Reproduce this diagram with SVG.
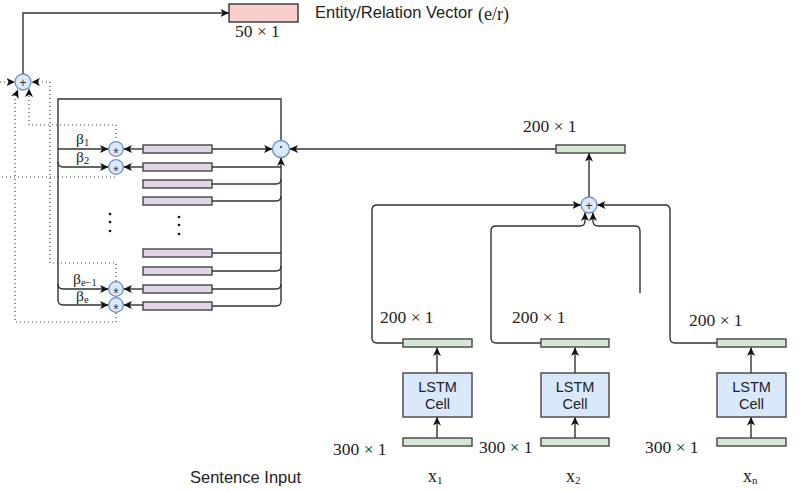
<svg xmlns="http://www.w3.org/2000/svg" width="801" height="492" viewBox="0 0 801 492">
  <style>
    .ln { fill: none; stroke: #333; stroke-width: 1.4; }
    .dot { fill: none; stroke: #444; stroke-width: 1.2; stroke-dasharray: 1 3; }
    .pink { fill: #f8cecc; stroke: #333; stroke-width: 1.4; }
    .green { fill: #d5e8d4; stroke: #444; stroke-width: 1.4; }
    .purple { fill: #e1d5e7; stroke: #444; stroke-width: 1.4; }
    .lstm { fill: #dae8fc; stroke: #444; stroke-width: 1.4; }
    .op { fill: #dae8fc; stroke: #6c8ebf; stroke-width: 1.3; }
    .serif { font-family: "Liberation Serif", "Times New Roman", serif; fill: #222; }
    .sans { font-family: "Liberation Sans", Arial, sans-serif; fill: #222; }
    .dim { font-size: 17.5px; }
    .sym { font-family: "Liberation Sans", Arial, sans-serif; font-size: 12px; fill: #333; text-anchor: middle; }
    .ast { font-family: "Liberation Sans", Arial, sans-serif; font-size: 14px; fill: #444; text-anchor: middle; }
    .vd { fill: #111; }
  </style>
  <defs>
    <marker id="arr" markerUnits="userSpaceOnUse" markerWidth="9" markerHeight="8" refX="8.5" refY="4" orient="auto">
      <path d="M0,0 L8.5,4 L0,8 L2.2,4 z" fill="#111"/>
    </marker>
  </defs>
  <rect width="801" height="492" fill="#fff"/>

  <!-- connectors -->
  <g id="connectors">
    <!-- sum of weighted entries to the output vector -->
    <path class="ln" d="M23,74 V13 H229" marker-end="url(#arr)"/>
    <!-- dotted feeds into the top sum -->
    <path class="dot" d="M0,82 H15" marker-end="url(#arr)"/>
    <path class="dot" d="M116,281 V263 H50 V82 H31.5" marker-end="url(#arr)"/>
    <path class="dot" d="M116,313 V322 H15 V97 L18,89.5" marker-end="url(#arr)"/>
    <path class="dot" d="M116,142 V125 H29 V88.5" marker-end="url(#arr)"/>
    <path class="dot" d="M116,174 V177 H0"/>

    <!-- attention weights from the dot product -->
    <path class="ln" d="M281,140.5 V99 H58 V300"/>
    <path class="ln" d="M58,149 H108.5" marker-end="url(#arr)"/>
    <path class="ln" d="M58,162 Q58,167 63,167 H108.5" marker-end="url(#arr)"/>
    <path class="ln" d="M58,284 Q58,289 63,289 H108.5" marker-end="url(#arr)"/>
    <path class="ln" d="M58,300 Q58,305 63,305 H108.5" marker-end="url(#arr)"/>

    <!-- entries into the weighting nodes -->
    <path class="ln" d="M143,149 H123.5" marker-end="url(#arr)"/>
    <path class="ln" d="M143,167 H123.5" marker-end="url(#arr)"/>
    <path class="ln" d="M143,289 H123.5" marker-end="url(#arr)"/>
    <path class="ln" d="M143,305 H123.5" marker-end="url(#arr)"/>

    <!-- entries into the dot product -->
    <path class="ln" d="M212,149 H272.5" marker-end="url(#arr)"/>
    <path class="ln" d="M281,301 V157.5" marker-end="url(#arr)"/>
    <path class="ln" d="M212,167 H281"/>
    <path class="ln" d="M212,184 H276 Q281,184 281,179"/>
    <path class="ln" d="M212,201 H276 Q281,201 281,196"/>
    <path class="ln" d="M212,253 H281"/>
    <path class="ln" d="M212,271 H276 Q281,271 281,266"/>
    <path class="ln" d="M212,289 H276 Q281,289 281,284"/>
    <path class="ln" d="M212,306 H276 Q281,306 281,301"/>

    <!-- sentence vector to the dot product -->
    <path class="ln" d="M556,149 H289.5" marker-end="url(#arr)"/>

    <!-- sum to sentence vector -->
    <path class="ln" d="M589,197 V153" marker-end="url(#arr)"/>

    <!-- LSTM outputs into the sum -->
    <path class="ln" d="M403,343 H377 Q372,343 372,338 V210 Q372,205 377,205 H581" marker-end="url(#arr)"/>
    <path class="ln" d="M541,343 H496 Q491,343 491,338 V231 Q491,226 496,226 H580 Q585,226 585,221 V212.5" marker-end="url(#arr)"/>
    <path class="ln" d="M640,293 V231 Q640,226 635,226 H598 Q593,226 593,221 V212.5" marker-end="url(#arr)"/>
    <path class="ln" d="M717,343 H675 Q670,343 670,338 V210 Q670,205 665,205 H597" marker-end="url(#arr)"/>

    <!-- LSTM column arrows -->
    <path class="ln" d="M437,438 V417" marker-end="url(#arr)"/>
    <path class="ln" d="M437,373 V347.5" marker-end="url(#arr)"/>
    <path class="ln" d="M575,438 V417" marker-end="url(#arr)"/>
    <path class="ln" d="M575,373 V347.5" marker-end="url(#arr)"/>
    <path class="ln" d="M751,438 V417" marker-end="url(#arr)"/>
    <path class="ln" d="M751,373 V347.5" marker-end="url(#arr)"/>
  </g>

  <!-- output vector -->
  <g id="entity-vector">
    <rect class="pink" x="229" y="4" width="69" height="18"/>
    <text class="serif dim" x="235" y="37">50 × 1</text>
    <text class="sans" x="315" y="18" font-size="16.5">Entity/Relation Vector</text>
    <text class="serif" x="478" y="20" font-size="18">(e/r)</text>
  </g>

  <g id="sum-top">
    <circle class="op" cx="23" cy="82" r="8"/>
    <text class="sym" x="23" y="86.5">+</text>
  </g>

  <!-- weighting nodes -->
  <g id="mul-1"><circle class="op" cx="116" cy="149" r="7.3"/><text class="ast" x="116" y="157.5">*</text></g>
  <g id="mul-2"><circle class="op" cx="116" cy="167" r="7.3"/><text class="ast" x="116" y="175.5">*</text></g>
  <g id="mul-e1"><circle class="op" cx="116" cy="289" r="7.3"/><text class="ast" x="116" y="297.5">*</text></g>
  <g id="mul-e"><circle class="op" cx="116" cy="305" r="7.3"/><text class="ast" x="116" y="313.5">*</text></g>

  <g id="beta-labels" class="serif" font-size="15.5">
    <text x="76" y="144">β<tspan font-size="10.5" dy="2">1</tspan></text>
    <text x="76" y="162">β<tspan font-size="10.5" dy="2">2</tspan></text>
    <text x="73" y="284">β<tspan font-size="10.5" dy="2">e−1</tspan></text>
    <text x="76" y="301">β<tspan font-size="10.5" dy="2">e</tspan></text>
  </g>

  <!-- entity entries -->
  <g id="entries">
    <rect class="purple" x="143" y="145" width="69" height="8"/>
    <rect class="purple" x="143" y="163" width="69" height="8"/>
    <rect class="purple" x="143" y="180" width="69" height="8"/>
    <rect class="purple" x="143" y="197" width="69" height="8"/>
    <rect class="purple" x="143" y="249" width="69" height="8"/>
    <rect class="purple" x="143" y="267" width="69" height="8"/>
    <rect class="purple" x="143" y="285" width="69" height="8"/>
    <rect class="purple" x="143" y="302" width="69" height="8"/>
  </g>

  <g id="ellipsis">
    <circle class="vd" cx="110" cy="214" r="1.3"/>
    <circle class="vd" cx="110" cy="222" r="1.3"/>
    <circle class="vd" cx="110" cy="231" r="1.3"/>
    <circle class="vd" cx="179" cy="217" r="1.3"/>
    <circle class="vd" cx="179" cy="225" r="1.3"/>
    <circle class="vd" cx="179" cy="234" r="1.3"/>
  </g>

  <g id="dot-product">
    <circle class="op" cx="281" cy="149" r="8.5"/>
    <circle cx="281" cy="147" r="0.9" fill="#222"/>
  </g>

  <g id="sentence-vector">
    <rect class="green" x="556" y="145" width="69" height="8"/>
    <text class="serif dim" x="523" y="132">200 × 1</text>
  </g>

  <g id="sum-lstm">
    <circle class="op" cx="589" cy="205" r="8"/>
    <text class="sym" x="589" y="209.5">+</text>
  </g>

  <!-- LSTM columns -->
  <g id="col-1">
    <rect class="green" x="403" y="339" width="69" height="8"/>
    <text class="serif dim" x="380" y="323">200 × 1</text>
    <rect class="lstm" x="403" y="373" width="69" height="44"/>
    <text class="sans" x="437.5" y="392" font-size="14.5" text-anchor="middle">LSTM</text>
    <text class="sans" x="437.5" y="409" font-size="14.5" text-anchor="middle">Cell</text>
    <rect class="green" x="403" y="438" width="69" height="8"/>
    <text class="serif dim" x="333" y="455">300 × 1</text>
    <text class="serif" x="428" y="482" font-size="18">x<tspan font-size="11" dy="2">1</tspan></text>
  </g>
  <g id="col-2">
    <rect class="green" x="541" y="339" width="68" height="8"/>
    <text class="serif dim" x="512" y="323">200 × 1</text>
    <rect class="lstm" x="541" y="373" width="68" height="44"/>
    <text class="sans" x="575" y="392" font-size="14.5" text-anchor="middle">LSTM</text>
    <text class="sans" x="575" y="409" font-size="14.5" text-anchor="middle">Cell</text>
    <rect class="green" x="541" y="438" width="68" height="8"/>
    <text class="serif dim" x="479" y="453">300 × 1</text>
    <text class="serif" x="566" y="482" font-size="18">x<tspan font-size="11" dy="2">2</tspan></text>
  </g>
  <g id="col-n">
    <rect class="green" x="717" y="339" width="69" height="8"/>
    <text class="serif dim" x="689" y="326">200 × 1</text>
    <rect class="lstm" x="717" y="373" width="69" height="44"/>
    <text class="sans" x="751.5" y="392" font-size="14.5" text-anchor="middle">LSTM</text>
    <text class="sans" x="751.5" y="409" font-size="14.5" text-anchor="middle">Cell</text>
    <rect class="green" x="717" y="438" width="69" height="8"/>
    <text class="serif dim" x="645" y="453">300 × 1</text>
    <text class="serif" x="743" y="482" font-size="18">x<tspan font-size="11" dy="2">n</tspan></text>
  </g>

  <g id="sentence-input">
    <text class="sans" x="190" y="483" font-size="16.5">Sentence Input</text>
  </g>
</svg>
